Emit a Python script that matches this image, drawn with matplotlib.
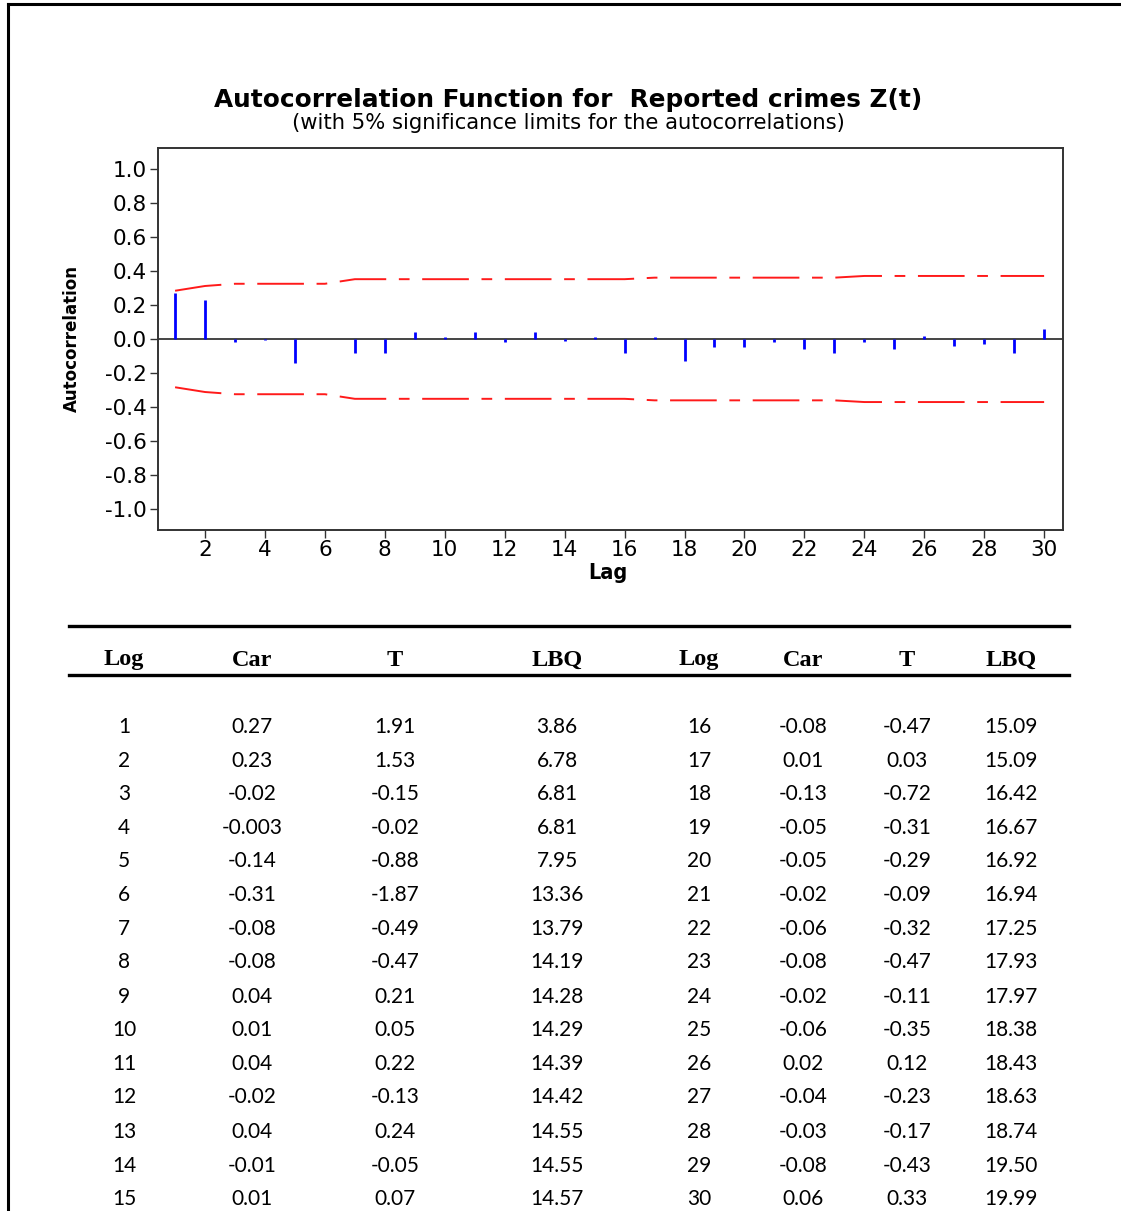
import matplotlib
matplotlib.use("Agg")
import matplotlib.pyplot as plt
from matplotlib.lines import Line2D

W, H = 1121, 1211

lags = list(range(1, 31))
# Values drawn as bars in the chart (lag 6 bar is not visible in the plot)
acf_bars = [0.27, 0.23, -0.02, -0.003, -0.14, 0.0, -0.08, -0.08, 0.04, 0.01,
            0.04, -0.02, 0.04, -0.01, 0.01, -0.08, 0.01, -0.13, -0.05, -0.05,
            -0.02, -0.06, -0.08, -0.02, -0.06, 0.02, -0.04, -0.03, -0.08, 0.06]
upper_limit = [0.284, 0.312, 0.325, 0.325, 0.325, 0.325, 0.352, 0.352, 0.352, 0.352,
               0.352, 0.352, 0.352, 0.352, 0.352, 0.352, 0.361, 0.361, 0.361, 0.361,
               0.361, 0.361, 0.361, 0.371, 0.371, 0.371, 0.371, 0.371, 0.371, 0.371]
lower_limit = [-v for v in upper_limit]

# Table
tab_lag = [str(v) for v in lags]
tab_car = ["0.27", "0.23", "-0.02", "-0.003", "-0.14", "-0.31", "-0.08", "-0.08", "0.04", "0.01",
           "0.04", "-0.02", "0.04", "-0.01", "0.01", "-0.08", "0.01", "-0.13", "-0.05", "-0.05",
           "-0.02", "-0.06", "-0.08", "-0.02", "-0.06", "0.02", "-0.04", "-0.03", "-0.08", "0.06"]
tab_t = ["1.91", "1.53", "-0.15", "-0.02", "-0.88", "-1.87", "-0.49", "-0.47", "0.21", "0.05",
         "0.22", "-0.13", "0.24", "-0.05", "0.07", "-0.47", "0.03", "-0.72", "-0.31", "-0.29",
         "-0.09", "-0.32", "-0.47", "-0.11", "-0.35", "0.12", "-0.23", "-0.17", "-0.43", "0.33"]
tab_lbq = ["3.86", "6.78", "6.81", "6.81", "7.95", "13.36", "13.79", "14.19", "14.28", "14.29",
           "14.39", "14.42", "14.55", "14.55", "14.57", "15.09", "15.09", "16.42", "16.67", "16.92",
           "16.94", "17.25", "17.93", "17.97", "18.38", "18.43", "18.63", "18.74", "19.50", "19.99"]
headers = ["Log", "Car", "T", "LBQ", "Log", "Car", "T", "LBQ"]

fig = plt.figure(figsize=(W / 100, H / 100), dpi=100)
fig.patch.set_facecolor("white")

def fx(px):
    return px / W

def fy(py):
    return 1 - py / H

# Outer border
fig.add_artist(Line2D([fx(8), fx(8)], [fy(4), fy(H + 5)], color="black", lw=2.2, transform=fig.transFigure))
fig.add_artist(Line2D([fx(8), fx(W + 5)], [fy(4), fy(4)], color="black", lw=2.2, transform=fig.transFigure))

# Chart axes
ax = fig.add_axes([fx(158), fy(530), fx(1063) - fx(158), fy(148) - fy(530)])
ax.set_xlim(0.43, 30.63)
ax.set_ylim(-1.124, 1.124)
ax.axhline(0, color="#444444", lw=1.4, zorder=1)
ax.vlines(lags, 0, acf_bars, color="#0000ff", lw=2.0, zorder=2)
dash = (24, 6.5, 5.5, 6.5)
ax.plot(lags, upper_limit, color="#ff1a1a", lw=1.4, dashes=dash)
ax.plot(lags, lower_limit, color="#ff1a1a", lw=1.4, dashes=dash)

ax.set_yticks([1.0, 0.8, 0.6, 0.4, 0.2, 0.0, -0.2, -0.4, -0.6, -0.8, -1.0])
ax.set_yticklabels(["1.0", "0.8", "0.6", "0.4", "0.2", "0.0", "-0.2", "-0.4", "-0.6", "-0.8", "-1.0"])
ax.set_xticks(list(range(2, 31, 2)))
ax.tick_params(axis="both", direction="out", length=6, width=1, color="#333333",
               labelsize=15.5, labelcolor="black", pad=2)
ax.tick_params(axis="x", pad=1)
for s in ax.spines.values():
    s.set_color("#333333")
    s.set_linewidth(1.4)
for lab in ax.get_xticklabels() + ax.get_yticklabels():
    lab.set_family("DejaVu Sans")

# Titles and axis labels
fig.text(fx(568), fy(100), "Autocorrelation Function for  Reported crimes Z(t)",
         ha="center", va="center", fontsize=17.8, fontweight="bold", family="DejaVu Sans")
fig.text(fx(568), fy(123), "(with 5% significance limits for the autocorrelations)",
         ha="center", va="center", fontsize=15.2, family="DejaVu Sans")
fig.text(fx(72), fy(339), "Autocorrelation", rotation=90, ha="center", va="center",
         fontsize=13.3, fontweight="bold", fontstretch="condensed", family="DejaVu Sans")
fig.text(fx(608), fy(573), "Lag", ha="center", va="center", fontsize=15.5,
         fontweight="bold", fontstretch="condensed", family="DejaVu Sans")

# Table rules
fig.add_artist(Line2D([fx(69), fx(1069)], [fy(626), fy(626)], color="black", lw=2.4, transform=fig.transFigure))
fig.add_artist(Line2D([fx(69), fx(1069)], [fy(675), fy(675)], color="black", lw=2.4, transform=fig.transFigure))

col_x = [124, 252, 395, 557, 699, 803, 907, 1011]
for x, h in zip(col_x, headers):
    fig.text(fx(x), fy(660), h, ha="center", va="center", fontsize=17.5,
             fontweight="bold", family="Liberation Serif")

row_y = [725, 759, 792, 826, 859, 893, 927, 960, 995, 1028, 1062, 1095, 1130, 1164, 1197]
for i, y in enumerate(row_y):
    left = [tab_lag[i], tab_car[i], tab_t[i], tab_lbq[i]]
    right = [tab_lag[i + 15], tab_car[i + 15], tab_t[i + 15], tab_lbq[i + 15]]
    for x, v in zip(col_x, left + right):
        fig.text(fx(x), fy(y + 2), v, ha="center", va="center", fontsize=15, family="Lato")

fig.savefig("out.png", dpi=100, facecolor="white")
